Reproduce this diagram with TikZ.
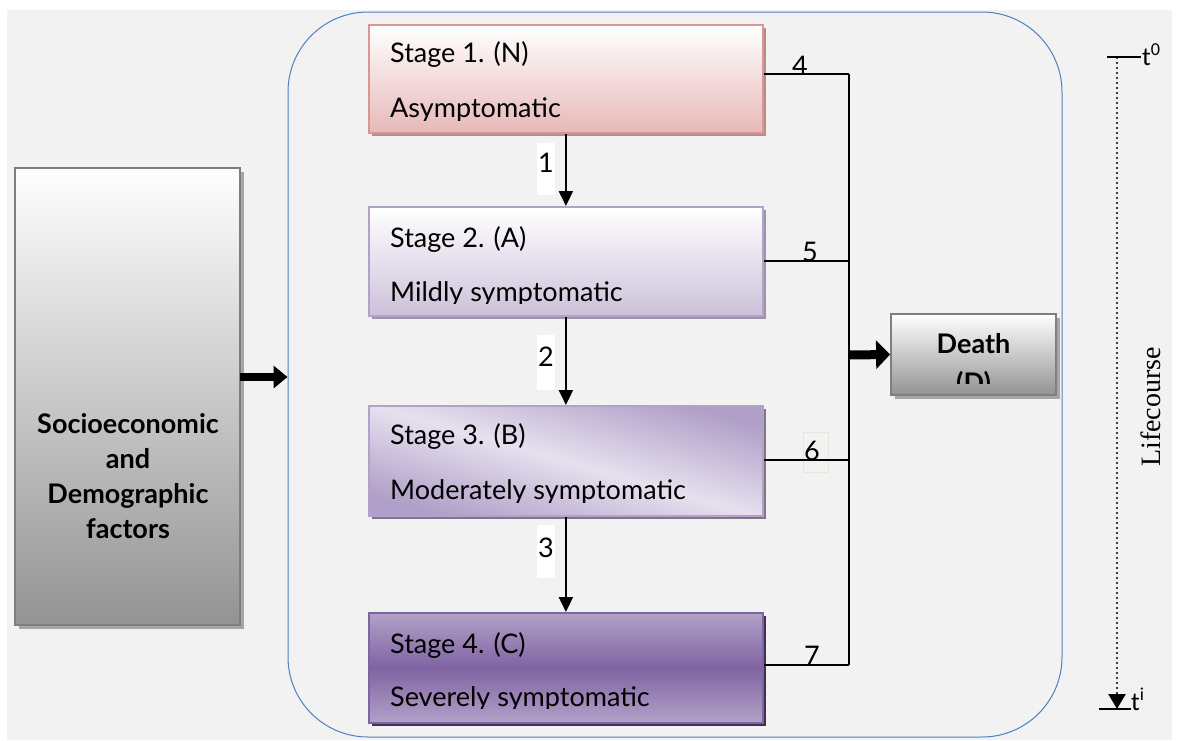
\documentclass[tikz,border=0pt]{standalone}
\usepackage{fontspec}
\setmainfont{Lato}
\newfontfamily\serifrm{Liberation Serif}
\newfontfamily\calib{Carlito}
\usetikzlibrary{arrows.meta,shadows,calc}
\definecolor{bg}{HTML}{F2F2F2}
\definecolor{frameblue}{HTML}{4F81BD}
\definecolor{pinkB}{HTML}{D99694}
\definecolor{pinkF}{HTML}{E6B9B8}
\definecolor{pinkS}{HTML}{B88C8B}
\definecolor{lavB}{HTML}{B3A2C7}
\definecolor{lavF}{HTML}{CCC1DA}
\definecolor{lavS}{HTML}{9D93AC}
\definecolor{lavL}{HTML}{E6E0EE}
\definecolor{lavD}{HTML}{B09FC8}
\definecolor{purB}{HTML}{7F64A1}
\definecolor{purM}{HTML}{8064A2}
\definecolor{purL}{HTML}{B2A1C8}
\definecolor{purS}{HTML}{3F3151}
\definecolor{grayB}{HTML}{7F7F7F}
\definecolor{grayF}{HTML}{939393}
\definecolor{grayS}{HTML}{A6A6A6}
\definecolor{sixbox}{HTML}{E8E8D6}
\tikzset{
  mainfont/.style={font=\fontsize{27}{32}\selectfont},
  boldfont/.style={font=\bfseries\fontsize{27}{35}\selectfont},
  stagebox/.style={draw, line width=1.8pt, minimum width=394pt, anchor=north west, inner sep=0pt},
  stagetext/.style={mainfont, anchor=base west, inner sep=0pt},
  conn/.style={line width=2pt, black},
  downarrow/.style={line width=2pt, -{Triangle[length=15pt,width=14pt]}},
  bigarrow/.style={line width=9pt, -{Triangle[length=14pt,width=28pt]}},
  numbg/.style={fill=white, minimum width=18pt, inner sep=0pt},
  numtext/.style={mainfont, anchor=base, inner sep=0pt},
  shadowof/.style={drop shadow={shadow xshift=3.5pt, shadow yshift=-3.5pt, fill=#1, opacity=1}},
}
\begin{document}
\begin{tikzpicture}[x=1pt,y=-1pt]
\useasboundingbox (0,0) rectangle (1177,740);
\fill[white] (0,0) rectangle (1177,740);
\fill[bg] (7,10) rectangle (1172,740);

% container
\node[draw=frameblue, line width=1pt, rounded corners=80pt, minimum width=774pt, minimum height=725pt, inner sep=0pt] (frame) at (675,374.5) {};

% left box
\node[draw=grayB, line width=1.8pt, top color=white, bottom color=grayF, shadowof=grayS, minimum width=225pt, minimum height=457pt, inner sep=0pt] (left) at (127.5,396.5) {};
\node[boldfont, align=center, inner sep=0pt, anchor=base] (lefttxt) at (128,538) {Socioeconomic\\and\\Demographic\\factors};

% stage boxes
\node[stagebox, draw=pinkB, top color=white, bottom color=pinkF, shadowof=pinkS, minimum height=108pt] (s1) at (368,24) {};
\node[stagebox, draw=lavB, top color=white, bottom color=lavF, shadowof=lavS, minimum height=109pt] (s2) at (368,206) {};
\node[stagebox, draw=lavB, top color=lavD, bottom color=lavD, middle color=lavL, shading angle=-16, shadowof=lavS!80!black, minimum height=110pt] (s3) at (368,405) {};
\node[stagebox, draw=purB, top color=purL, bottom color=purL, middle color=purM, shadowof=purS, minimum height=110pt] (s4) at (368,612) {};

% stage texts
\node[stagetext] (s1a) at (390,62) {Stage 1. (N)};
\begin{scope}\clip (368,24) rectangle (762,120);
\node[stagetext] (s1b) at (390,117) {Asymptomatic};
\end{scope}
\node[stagetext] (s2a) at (390,247) {Stage 2. (A)};
\begin{scope}\clip (368,206) rectangle (762,303);
\node[stagetext] (s2b) at (390,301) {Mildly symptomatic};
\end{scope}
\node[stagetext] (s3a) at (390,444) {Stage 3. (B)};
\begin{scope}\clip (368,405) rectangle (762,502);
\node[stagetext] (s3b) at (390,499) {Moderately symptomatic};
\end{scope}
\node[stagetext] (s4a) at (390,653) {Stage 4. (C)};
\begin{scope}\clip (368,612) rectangle (762,708);
\node[stagetext] (s4b) at (390,706) {Severely symptomatic};
\end{scope}

% death box
\node[draw=grayB, line width=1.8pt, top color=white, bottom color=grayF, shadowof=grayS, minimum width=165pt, minimum height=81pt, inner sep=0pt] (death) at (973.5,354.5) {};
\node[boldfont, anchor=base, inner sep=0pt] (dt1) at (973.5,353) {Death};
\begin{scope}\clip (891,314) rectangle (1056,383);
\node[boldfont, anchor=base, inner sep=0pt] (dt2) at (973.5,392) {(D)};
\end{scope}

% number backgrounds and down arrows
\node[numbg, minimum height=52pt] (b1) at (546,169) {};
\node[numbg, minimum height=55pt] (b2) at (546,362) {};
\node[numbg, minimum height=53pt] (b3) at (546,551) {};
\node[numtext] (n1) at (546,172) {1};
\node[numtext] (n2) at (546,366) {2};
\node[numtext] (n3) at (546,557) {3};
\draw[downarrow] (s1.south) -- (s2.north);
\draw[downarrow] (s2.south) -- (s3.north);
\draw[downarrow] (s3.south) -- (s4.north);

% connectors to death
\coordinate (j1) at (849,74);
\coordinate (j2) at (849,261);
\coordinate (j3) at (849,460);
\coordinate (j4) at (849,665);
\coordinate (jd) at (849,355);
\node[draw=sixbox, line width=0.8pt, minimum width=25pt, minimum height=40pt, inner sep=0pt] (six) at (815.5,452) {};
\draw[conn] (s1.east |- j1) -- (j1);
\draw[conn] (s2.east |- j2) -- (j2);
\draw[conn] (s3.east |- j3) -- (j3);
\draw[conn] (s4.east |- j4) -- (j4);
\draw[conn] (j1) -- (j4);
\node[numtext] (n4) at (800,75) {4};
\node[numtext] (n5) at (810,261) {5};
\node[numtext] (n6) at (812,460) {6};
\node[numtext] (n7) at (812,665) {7};
\draw[bigarrow] (jd) -- (death.west);

% left arrow
\coordinate (la) at (240,377);
\draw[bigarrow, line width=8pt, -{Triangle[length=14pt,width=22pt]}] (la) -- (frame.west |- la);

% timeline
\coordinate (ta) at (1107,57);
\coordinate (tb) at (1141,57);
\coordinate (tc) at (1117,58);
\coordinate (td) at (1117,709);
\coordinate (te) at (1099,709);
\coordinate (tf) at (1131,709);
\draw[line width=1.6pt] (ta) -- (tb);
\draw[line width=1.6pt] (te) -- (tf);
\draw[line width=2.4pt, line cap=round, dash pattern=on 0pt off 5pt, -{Triangle[length=15pt,width=17pt]}] (tc) -- (td);
\node[anchor=base west, inner sep=0pt, font=\calib\fontsize{26}{30}\selectfont] (t0) at (1142,65) {t\textsuperscript{0}};
\node[anchor=base west, inner sep=0pt, font=\calib\fontsize{26}{30}\selectfont] (ti) at (1131,710) {t\textsuperscript{i}};
\node[rotate=90, inner sep=0pt, font=\serifrm\fontsize{28}{30}\selectfont] (life) at (1151,407) {Lifecourse};
\end{tikzpicture}
\end{document}
